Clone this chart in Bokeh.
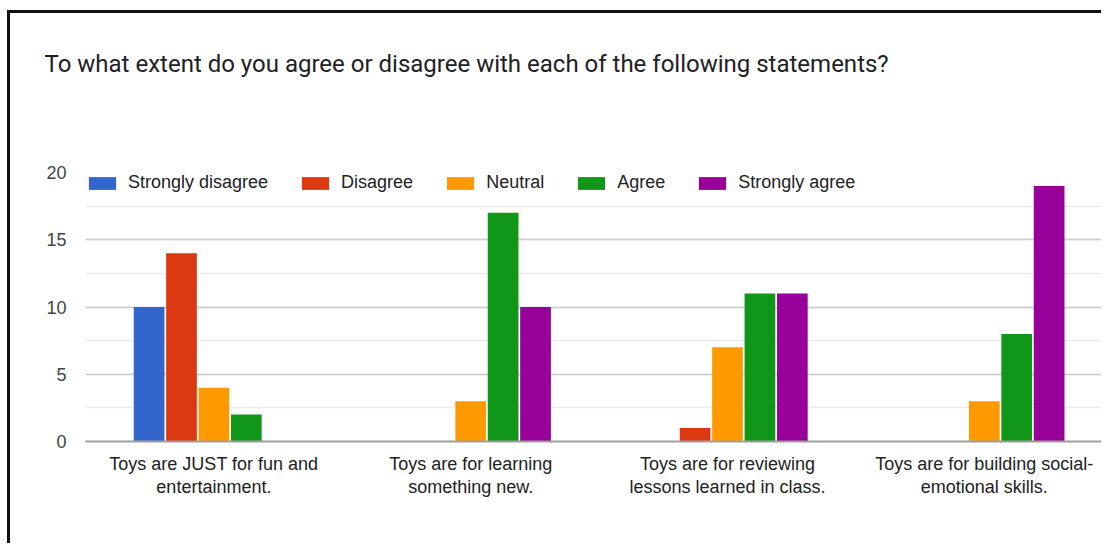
from bokeh.plotting import figure
from bokeh.models import (Range1d, FixedTicker, SingleIntervalTicker, Title,
                          Legend, LegendItem, ColumnDataSource)
from bokeh.transform import dodge
from bokeh.embed import file_html
from bokeh.resources import INLINE

title = "To what extent do you agree or disagree with each of the following statements?"
categories = [
    "Toys are JUST for fun and\nentertainment.",
    "Toys are for learning\nsomething new.",
    "Toys are for reviewing\nlessons learned in class.",
    "Toys are for building social-\nemotional skills.",
]
series = ["Strongly disagree", "Disagree", "Neutral", "Agree", "Strongly agree"]
strongly_disagree = [10, 0, 0, 0]
disagree = [14, 0, 1, 0]
neutral = [4, 3, 7, 3]
agree = [2, 17, 11, 8]
strongly_agree = [0, 10, 11, 19]
colors = ["#3366cc", "#dc3912", "#ff9900", "#109618", "#990099"]

values = [strongly_disagree, disagree, neutral, agree, strongly_agree]
xs = [i + 0.5 for i in range(len(categories))]

p = figure(width=1094, height=533, output_backend="svg", toolbar_location=None,
           x_range=Range1d(0, 3.968), y_range=Range1d(0, 20),
           min_border_left=75, min_border_right=0, min_border_top=159, min_border_bottom=105)
p.outline_line_color = None
p.background_fill_color = "white"
p.border_fill_color = "white"
p.margin = (10, 0, 0, 7)
p.styles = {"border-left": "3px solid #111111", "border-top": "3px solid #111111"}

step = 0.1262
bw = 0.1196
items = []
for j, (name, vals, col) in enumerate(zip(series, values, colors)):
    src = ColumnDataSource(dict(x=xs, top=vals))
    r = p.vbar(x=dodge("x", (j - 2) * step), top="top", width=bw, source=src,
               fill_color=col, line_color=None)
    items.append(LegendItem(label=name, renderers=[r]))

legend = Legend(items=items, orientation="horizontal", location="top_left",
                glyph_width=34, glyph_height=16, label_standoff=9, spacing=30,
                padding=0, margin=0, label_height=16,
                border_line_color=None, background_fill_alpha=0,
                label_text_font="Liberation Sans", label_text_font_size="18px",
                label_text_color="#222222")
p.add_layout(legend, "center")

# spacer between the title and the plot area, then the title itself
spacer = Title(text=" ", text_font_size="1px", standoff=87)
p.add_layout(spacer, "above")
main_title = Title(text=title, text_font="Roboto", text_font_size="24px",
                   text_font_style="normal", text_color="#202124",
                   align="left", offset=-41, standoff=10)
p.add_layout(main_title, "above")

# y axis
p.yaxis.ticker = SingleIntervalTicker(interval=5, num_minor_ticks=2)
p.yaxis.axis_line_color = None
p.yaxis.major_tick_line_color = None
p.yaxis.minor_tick_line_color = None
p.yaxis.major_label_standoff = 13
p.yaxis.major_label_text_font = "Liberation Sans"
p.yaxis.major_label_text_font_size = "18px"
p.yaxis.major_label_text_color = "#444444"

p.ygrid.grid_line_color = "#cccccc"
p.ygrid.grid_line_width = 1.5
p.ygrid.minor_grid_line_color = "#ebebeb"
p.ygrid.minor_grid_line_width = 1.5
p.xgrid.grid_line_color = None

# x axis
p.xaxis.ticker = FixedTicker(ticks=xs)
p.xaxis.major_label_overrides = {x: c for x, c in zip(xs, categories)}
p.xaxis.axis_line_color = "#9e9e9e"
p.xaxis.axis_line_width = 2
p.xaxis.major_tick_line_color = None
p.xaxis.minor_tick_line_color = None
p.xaxis.major_label_standoff = 6
p.xaxis.major_label_text_font = "Liberation Sans"
p.xaxis.major_label_text_font_size = "18px"
p.xaxis.major_label_text_color = "#222222"
p.xaxis.major_label_text_line_height = 1.16

open("out.html", "w").write(file_html(p, INLINE))
